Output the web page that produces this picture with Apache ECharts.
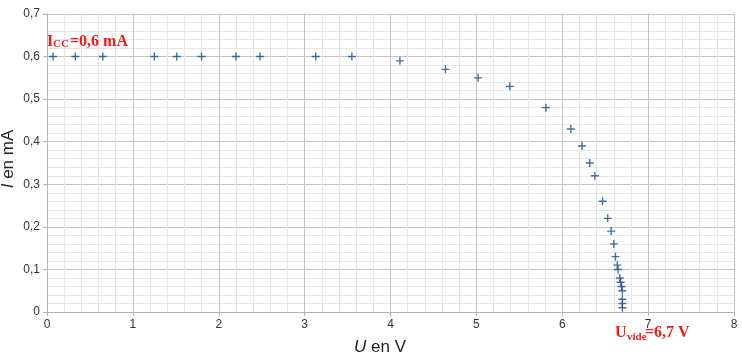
<!DOCTYPE html>
<html><head><meta charset="utf-8">
<script src="https://cdn.jsdelivr.net/npm/echarts@6/dist/echarts.min.js"></script>
<style>html,body{margin:0;padding:0;background:#fff}#c{width:742px;height:355px}</style>
</head><body><div id="c"></div>
<script>
// Tension U (V)
const uValues = [0.07,0.33,0.65,1.25,1.51,1.80,2.20,2.48,3.13,3.55,
  4.11,4.64,5.02,5.39,5.81,6.10,6.23,6.32,6.38,6.47,6.53,6.57,6.60,
  6.62,6.64,6.65,6.67,6.68,6.69,6.70,6.70,6.70,6.70];
// Intensité I (mA)
const iValues = [0.6,0.6,0.6,0.6,0.6,0.6,0.6,0.6,0.6,0.6,
  0.59,0.57,0.55,0.53,0.48,0.43,0.39,0.35,0.32,0.26,0.22,0.19,0.16,
  0.13,0.11,0.10,0.08,0.07,0.06,0.05,0.03,0.02,0.01];
const xTicks = {min:0, max:8, step:1};
const yTicks = {min:0, max:0.7, step:0.1};

const red = '#f01c1c';
const serif = '"Liberation Serif","DejaVu Serif",serif';
const sans = '"Liberation Sans",Arial,sans-serif';
const chart = echarts.init(document.getElementById('c'));
chart.setOption({
  backgroundColor:'#fff',
  animation:false,
  grid:{left:47,right:8,top:14,bottom:43,containLabel:false,outerBoundsMode:'none'},
  xAxis:{type:'value',min:xTicks.min,max:xTicks.max,interval:xTicks.step,
    name:'{i|U} en V',nameLocation:'middle',nameGap:27,
    nameTextStyle:{fontFamily:sans,fontSize:17,color:'#222',padding:[0,21,0,0],
      rich:{i:{fontStyle:'italic',fontSize:17,fontFamily:sans,color:'#222'}}},
    axisLine:{show:true,lineStyle:{color:'#b3b3b3'}},
    axisTick:{show:true,length:4,lineStyle:{color:'#b3b3b3'}},
    axisLabel:{color:'#333',fontSize:12,margin:7,fontFamily:sans},
    splitLine:{show:true,lineStyle:{color:'#c4c4c4'}},
    minorTick:{show:false,splitNumber:5},
    minorSplitLine:{show:true,lineStyle:{color:'#e6e6e6'}}
  },
  yAxis:{type:'value',min:yTicks.min,max:yTicks.max,interval:yTicks.step,
    name:'{i|I} en mA',nameLocation:'middle',nameGap:30,nameRotate:90,nameMoveOverlap:false,
    nameTextStyle:{fontFamily:sans,fontSize:17,color:'#222',padding:[0,0,0,8],
      rich:{i:{fontStyle:'italic',fontSize:17,fontFamily:sans,color:'#222'}}},
    axisLine:{show:true,lineStyle:{color:'#b3b3b3'}},
    axisTick:{show:true,length:4,lineStyle:{color:'#b3b3b3'}},
    axisLabel:{color:'#333',fontSize:12,margin:7,fontFamily:sans,
      formatter:v=> v===0?'0':v.toFixed(1).replace('.',',')},
    splitLine:{show:true,lineStyle:{color:'#c4c4c4'}},
    minorTick:{show:false,splitNumber:5},
    minorSplitLine:{show:true,lineStyle:{color:'#e6e6e6'}}
  },
  series:[{type:'scatter',
    data:uValues.map((u,k)=>[u,iValues[k]]),
    symbol:'path://M3.3,0h1.4v3.3h3.3v1.4h-3.3v3.3h-1.4v-3.3h-3.3v-1.4h3.3z',
    symbolSize:8,
    itemStyle:{color:'#1a4a88'}
  }],
  graphic:[
    {type:'text',z:100,left:47,top:34,style:{text:'I',font:'bold 16px '+serif,fill:red}},
    {type:'text',z:100,left:53,top:38.5,style:{text:'CC',font:'bold 11px '+serif,fill:red}},
    {type:'text',z:100,left:70,top:34,style:{text:'=0,6 mA',font:'bold 16px '+serif,fill:red}},
    {type:'text',z:100,left:615,top:325,style:{text:'U',font:'bold 16px '+serif,fill:red}},
    {type:'text',z:100,left:627,top:332,style:{text:'vide',font:'bold 11px '+serif,fill:red}},
    {type:'text',z:100,left:645,top:325,style:{text:'=6,7 V',font:'bold 16px '+serif,fill:red}}
  ]
});
</script></body></html>
